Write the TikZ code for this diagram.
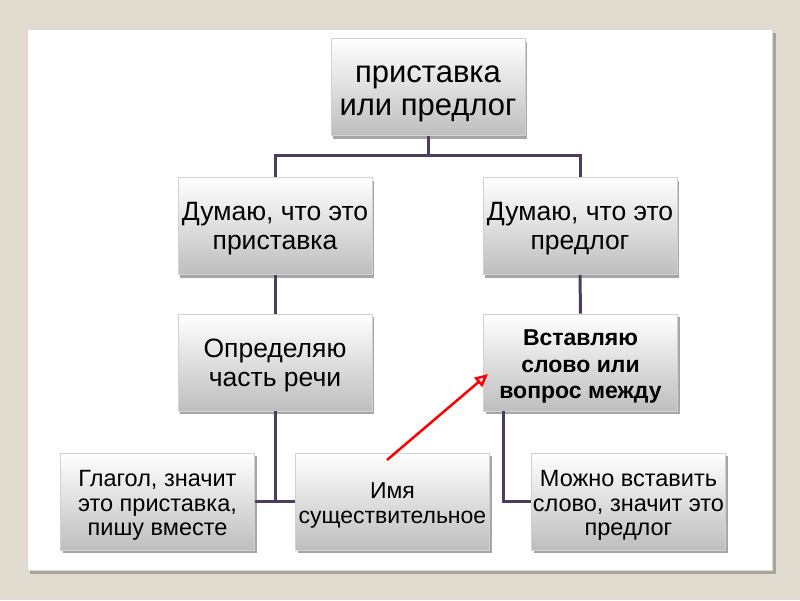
\documentclass[tikz,border=0pt]{standalone}
\usepackage{fontspec}
\setmainfont{Liberation Sans}
\usetikzlibrary{shadows,arrows.meta}
\definecolor{bgbeige}{RGB}{226,220,208}
\definecolor{linkc}{RGB}{78,60,96}
\definecolor{boxbot}{RGB}{190,190,190}
\tikzset{
  boxnode/.style={draw=gray!35, line width=0.6pt, top color=white, bottom color=boxbot,
    minimum width=194pt, minimum height=97pt, inner sep=0pt,
    drop shadow={shadow xshift=2pt, shadow yshift=-3pt, opacity=0.35, fill=black}},
  txt/.style={inner sep=0pt, align=center},
  toptext/.style={txt, font=\fontsize{31}{33}\selectfont, yshift=-7pt},
  midtext/.style={txt, font=\fontsize{26.5}{29}\selectfont, yshift=-3pt},
  boldtext/.style={txt, font=\bfseries\fontsize{23}{26.5}\selectfont, yshift=-4pt},
  bottext/.style={txt, font=\fontsize{23.5}{24.5}\selectfont, yshift=-4pt},
  link/.style={draw=linkc, line width=3pt},
  redarrow/.style={draw=red, line width=2.5pt, -{Triangle[open, length=13pt, width=12pt]}}
}
\begin{document}
\begin{tikzpicture}[x=1pt,y=-1pt]
\fill[bgbeige] (0,0) rectangle (800,600);
\useasboundingbox (0,0) rectangle (800,600);
\fill[black, opacity=0.25] (30,33) rectangle (776,574);
\fill[white] (27,29) rectangle (772,570);
\draw[gray!30, line width=0.5pt] (27,29) rectangle (772,570);

\node[boxnode] (top) at (428,87) {};
\node[boxnode] (l1) at (275,226) {};
\node[boxnode] (r1) at (580,226) {};
\node[boxnode] (l2) at (275,362.5) {};
\node[boxnode] (r2) at (580.5,362.5) {};
\node[boxnode] (g) at (157.5,501.5) {};
\node[boxnode] (im) at (392.5,501.5) {};
\node[boxnode] (m) at (628.5,501.5) {};

\node[toptext] (top-t) at (top.center) {приставка\\или предлог};
\node[midtext] (l1-t) at (l1.center) {Думаю, что это\\приставка};
\node[midtext] (r1-t) at (r1.center) {Думаю, что это\\предлог};
\node[midtext] (l2-t) at (l2.center) {Определяю\\часть речи};
\node[boldtext] (r2-t) at (r2.center) {Вставляю\\слово или\\вопрос между};
\node[bottext] (g-t) at (g.center) {Глагол, значит\\это приставка,\\пишу вместе};
\node[bottext, font=\fontsize{23}{24.5}\selectfont] (im-t) at (im.center) {Имя\\существительное};
\node[bottext] (m-t) at (m.center) {Можно вставить\\слово, значит это\\предлог};

\coordinate (hub) at (428,155);
\coordinate (lt) at (275,501.5);
\coordinate (rt) at (503,501.5);

\draw[link] (top.south) -- (hub) -| (l1.north);
\draw[link] (hub) -| (r1.north);
\draw[link] (l1.south) -- (l2.north);
\draw[link] (r1.south) -- (r2.north);
\draw[link] (l2.south) -- (lt);
\draw[link] (g.east) -- (im.west);
\draw[link] (r2.south -| rt) -- (rt) -- (m.west);

\coordinate (as) at (387,460);
\coordinate (ae) at (488,374);
\draw[redarrow] (as) -- (ae);
\end{tikzpicture}
\end{document}
